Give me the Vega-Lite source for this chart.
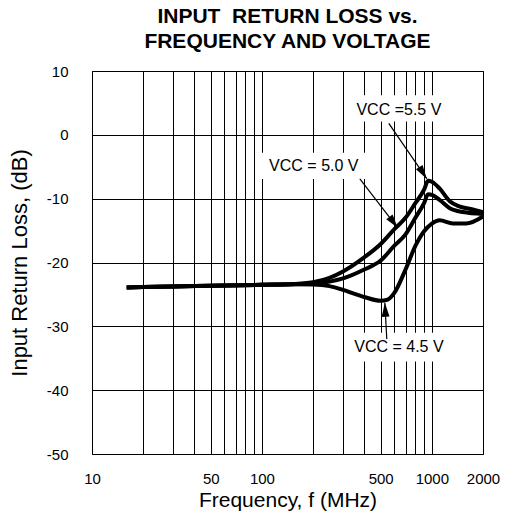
{
  "$schema": "https://vega.github.io/schema/vega-lite/v6.json",
  "autosize": {"type": "none"},
  "width": 391,
  "height": 383,
  "padding": {"left": 92, "top": 71, "right": 23, "bottom": 65},
  "background": "white",
  "title": {
    "text": ["INPUT\u00a0 RETURN LOSS vs.", "FREQUENCY AND VOLTAGE"],
    "fontSize": 21,
    "fontWeight": "bold",
    "font": "Liberation Sans",
    "color": "black",
    "anchor": "middle",
    "lineHeight": 25,
    "baseline": "bottom",
    "offset": 16,
    "dy": 25
  },
  "config": {
    "font": "Liberation Sans",
    "view": {"stroke": "black", "strokeWidth": 1},
    "axis": {
      "domain": false,
      "grid": true,
      "gridColor": "black",
      "gridOpacity": 1,
      "gridWidth": 1,
      "ticks": false,
      "tickSize": 0,
      "labelFontSize": 15,
      "labelColor": "black",
      "titleFontSize": 22,
      "titleFontWeight": "normal",
      "titleColor": "black",
      "labelOverlap": false,
      "labelFlush": false
    }
  },
  "datasets": {
    "curves": [
      {"vcc": "5.5", "f": 16, "dB": -23.9},
      {"vcc": "5.5", "f": 20, "dB": -23.85},
      {"vcc": "5.5", "f": 30, "dB": -23.75},
      {"vcc": "5.5", "f": 50, "dB": -23.65},
      {"vcc": "5.5", "f": 100, "dB": -23.5},
      {"vcc": "5.5", "f": 150, "dB": -23.4},
      {"vcc": "5.5", "f": 200, "dB": -23.1},
      {"vcc": "5.5", "f": 250, "dB": -22.4},
      {"vcc": "5.5", "f": 300, "dB": -21.4},
      {"vcc": "5.5", "f": 400, "dB": -19.2},
      {"vcc": "5.5", "f": 500, "dB": -17.1},
      {"vcc": "5.5", "f": 600, "dB": -14.8},
      {"vcc": "5.5", "f": 700, "dB": -13.0},
      {"vcc": "5.5", "f": 800, "dB": -10.7},
      {"vcc": "5.5", "f": 900, "dB": -8.6},
      {"vcc": "5.5", "f": 950, "dB": -7.2},
      {"vcc": "5.5", "f": 1000, "dB": -7.35},
      {"vcc": "5.5", "f": 1110, "dB": -8.4},
      {"vcc": "5.5", "f": 1275, "dB": -10.4},
      {"vcc": "5.5", "f": 1450, "dB": -11.2},
      {"vcc": "5.5", "f": 1740, "dB": -11.7},
      {"vcc": "5.5", "f": 2000, "dB": -12.1},
      {"vcc": "5.0", "f": 16, "dB": -23.9},
      {"vcc": "5.0", "f": 20, "dB": -23.85},
      {"vcc": "5.0", "f": 30, "dB": -23.75},
      {"vcc": "5.0", "f": 50, "dB": -23.65},
      {"vcc": "5.0", "f": 100, "dB": -23.5},
      {"vcc": "5.0", "f": 150, "dB": -23.4},
      {"vcc": "5.0", "f": 200, "dB": -23.35},
      {"vcc": "5.0", "f": 250, "dB": -23.0},
      {"vcc": "5.0", "f": 300, "dB": -22.5},
      {"vcc": "5.0", "f": 400, "dB": -21.1},
      {"vcc": "5.0", "f": 500, "dB": -19.7},
      {"vcc": "5.0", "f": 600, "dB": -17.4},
      {"vcc": "5.0", "f": 700, "dB": -15.6},
      {"vcc": "5.0", "f": 800, "dB": -13.0},
      {"vcc": "5.0", "f": 900, "dB": -10.7},
      {"vcc": "5.0", "f": 950, "dB": -9.3},
      {"vcc": "5.0", "f": 1000, "dB": -9.4},
      {"vcc": "5.0", "f": 1110, "dB": -10.2},
      {"vcc": "5.0", "f": 1275, "dB": -11.5},
      {"vcc": "5.0", "f": 1520, "dB": -12.1},
      {"vcc": "5.0", "f": 2000, "dB": -12.4},
      {"vcc": "4.5", "f": 16, "dB": -23.9},
      {"vcc": "4.5", "f": 20, "dB": -23.85},
      {"vcc": "4.5", "f": 30, "dB": -23.75},
      {"vcc": "4.5", "f": 50, "dB": -23.65},
      {"vcc": "4.5", "f": 100, "dB": -23.5},
      {"vcc": "4.5", "f": 150, "dB": -23.4},
      {"vcc": "4.5", "f": 200, "dB": -23.45},
      {"vcc": "4.5", "f": 250, "dB": -23.7},
      {"vcc": "4.5", "f": 300, "dB": -24.3},
      {"vcc": "4.5", "f": 400, "dB": -25.4},
      {"vcc": "4.5", "f": 500, "dB": -26.0},
      {"vcc": "4.5", "f": 550, "dB": -25.8},
      {"vcc": "4.5", "f": 600, "dB": -24.8},
      {"vcc": "4.5", "f": 700, "dB": -21.1},
      {"vcc": "4.5", "f": 800, "dB": -17.4},
      {"vcc": "4.5", "f": 900, "dB": -15.1},
      {"vcc": "4.5", "f": 1000, "dB": -13.9},
      {"vcc": "4.5", "f": 1110, "dB": -13.4},
      {"vcc": "4.5", "f": 1330, "dB": -13.9},
      {"vcc": "4.5", "f": 1590, "dB": -13.9},
      {"vcc": "4.5", "f": 2000, "dB": -12.8}
    ],
    "boxes": [
      {"f": 338, "f2": 1161, "dB": 6.2, "dB2": 2.1},
      {"f": 95, "f2": 409, "dB": -2.8, "dB2": -6.9},
      {"f": 338, "f2": 1161, "dB": -31.0, "dB2": -35.5}
    ],
    "arrows": [
      {"f": 935, "dB": -6.9, "f2": 558, "dB2": 1.8, "angle": 147},
      {"f": 631, "dB": -14.6, "f2": 377, "dB2": -6.9, "angle": 143},
      {"f": 529, "dB": -26.3, "f2": 543, "dB2": -32.0, "angle": -3}
    ],
    "labels": [
      {"f": 640, "dB": 3.9, "label": "VCC =5.5 V"},
      {"f": 202, "dB": -4.9, "label": "VCC = 5.0 V"},
      {"f": 640, "dB": -33.3, "label": "VCC = 4.5 V"}
    ]
  },
  "encoding": {
    "x": {
      "field": "f",
      "type": "quantitative",
      "title": "Frequency, f (MHz)",
      "scale": {"type": "log", "domain": [10, 2000], "nice": false},
      "axis": {
        "values": [10, 20, 30, 40, 50, 60, 70, 80, 90, 100, 200, 300, 400, 500, 600, 700, 800, 900, 1000, 2000],
        "labelExpr": "(datum.value == 10 || datum.value == 50 || datum.value == 100 || datum.value == 500 || datum.value == 1000 || datum.value == 2000) ? '' + datum.value : ''",
        "labelPadding": 17,
        "titleFontSize": 21,
        "titleX": 195.5,
        "titleY": 52,
        "titleBaseline": "alphabetic"
      }
    },
    "y": {
      "field": "dB",
      "type": "quantitative",
      "title": "Input Return Loss, (dB)",
      "scale": {"domain": [-50, 10], "nice": false},
      "axis": {
        "values": [-50, -40, -30, -20, -10, 0, 10],
        "labelExpr": "'' + datum.value",
        "labelPadding": 24,
        "titleX": -73,
        "titleY": 191.5,
        "titleAngle": -90,
        "titleAlign": "center",
        "titleBaseline": "middle"
      }
    }
  },
  "layer": [
    {
      "data": {"name": "boxes"},
      "mark": {"type": "rect", "fill": "white", "stroke": null},
      "encoding": {
        "x2": {"field": "f2"},
        "y2": {"field": "dB2"}
      }
    },
    {
      "data": {"name": "curves"},
      "mark": {"type": "line", "color": "black", "strokeWidth": 4, "interpolate": "monotone"},
      "encoding": {
        "detail": {"field": "vcc", "type": "nominal"}
      }
    },
    {
      "data": {"name": "arrows"},
      "mark": {"type": "rule", "color": "black", "strokeWidth": 1.2},
      "encoding": {
        "x2": {"field": "f2"},
        "y2": {"field": "dB2"}
      }
    },
    {
      "data": {"name": "arrows"},
      "mark": {"type": "point", "filled": true, "color": "black", "opacity": 1, "size": 350, "shape": "M0,0L-0.42,1.5L0.42,1.5Z", "strokeWidth": 0},
      "encoding": {
        "angle": {"field": "angle", "type": "quantitative", "scale": null}
      }
    },
    {
      "data": {"name": "labels"},
      "mark": {"type": "text", "fontSize": 16, "color": "black", "align": "center", "baseline": "middle", "font": "Liberation Sans"},
      "encoding": {
        "text": {"field": "label", "type": "nominal"}
      }
    }
  ]
}
